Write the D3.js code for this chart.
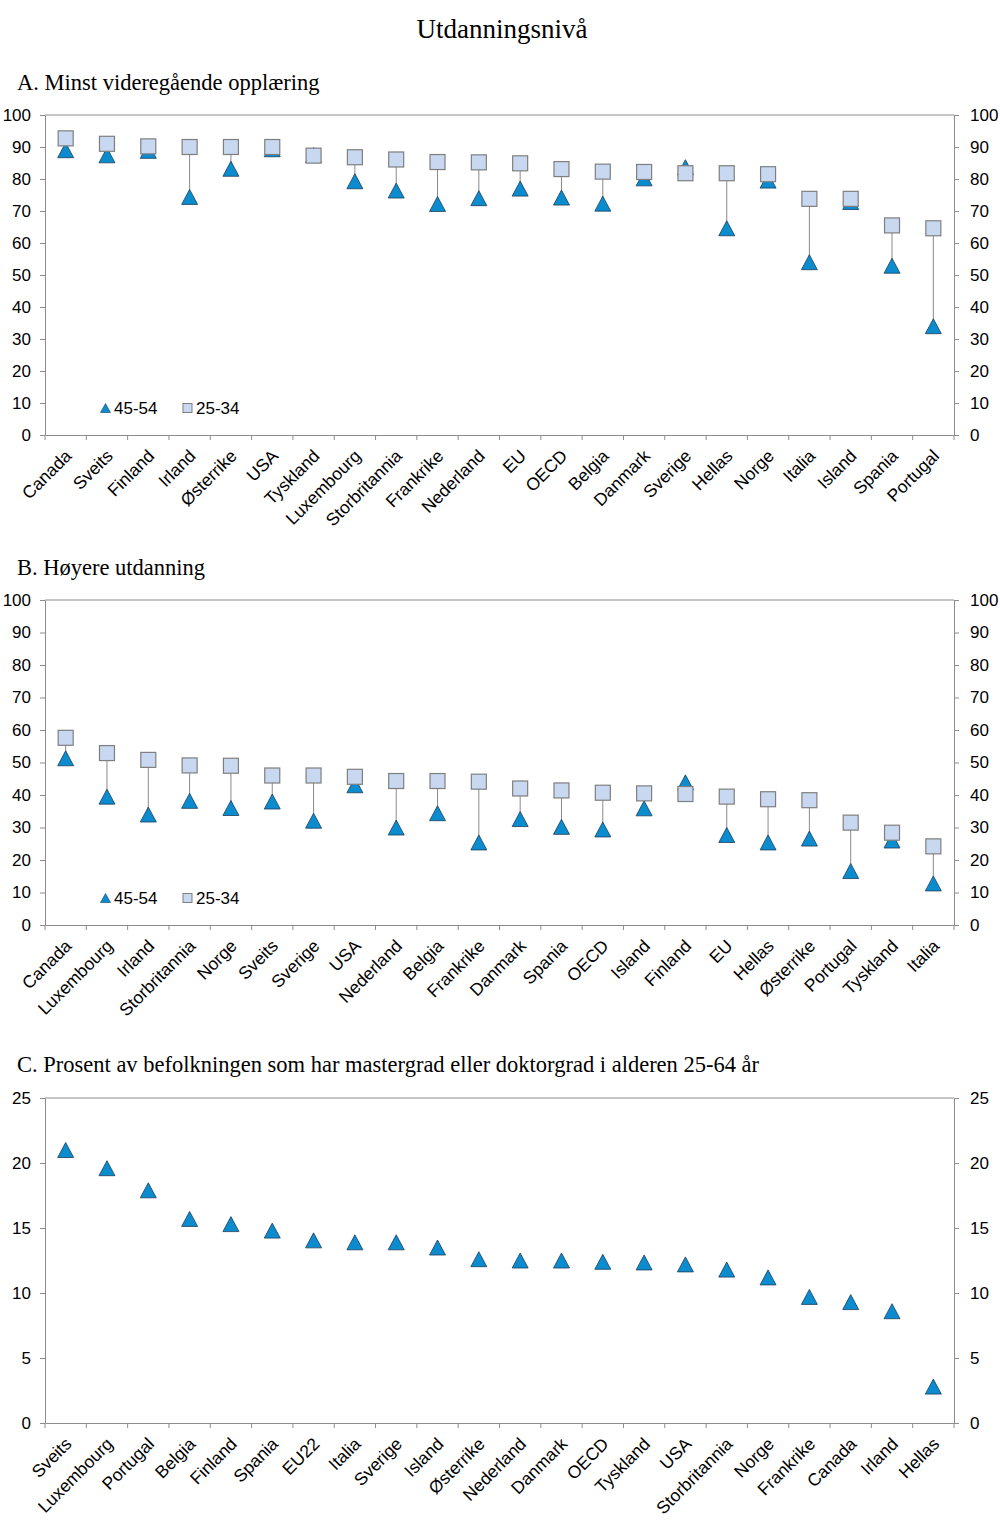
<!DOCTYPE html>
<html>
<head>
<meta charset="utf-8">
<script src="https://cdn.jsdelivr.net/npm/d3@7"></script>
<style>
  body { margin: 0; background: #fff; }
  svg { display: block; }
  .axis text { font-family: "Liberation Sans", Arial, sans-serif; font-size: 17px; fill: #000; }
  .axis path, .axis line { stroke: #8c8c8c; }
</style>
</head>
<body>
<svg id="chart" width="1000" height="1536"></svg>
<script>
// Panel A: minst videregående opplæring
const catsA = ["Canada", "Sveits", "Finland", "Irland", "Østerrike", "USA", "Tyskland", "Luxembourg",
  "Storbritannia", "Frankrike", "Nederland", "EU", "OECD", "Belgia", "Danmark", "Sverige", "Hellas",
  "Norge", "Italia", "Island", "Spania", "Portugal"];
const youngA = [92.7, 91, 90.2, 90, 90, 90, 87.3, 86.8, 86.1, 85.3, 85.2, 84.9, 83.1, 82.3, 82.2, 81.8,
  81.8, 81.5, 73.8, 73.8, 65.5, 64.6];
const olderA = [89, 87.4, 88.8, 74.4, 83.2, 89.3, 87.5, 79.3, 76.4, 72.2, 74, 77, 74.2, 72.3, 80.2, 83.7,
  64.6, 79.5, 54, 72.8, 52.9, 34];

// Panel B: høyere utdanning
const catsB = ["Canada", "Luxembourg", "Irland", "Storbritannia", "Norge", "Sveits", "Sverige", "USA",
  "Nederland", "Belgia", "Frankrike", "Danmark", "Spania", "OECD", "Island", "Finland", "EU", "Hellas",
  "Østerrike", "Portugal", "Tyskland", "Italia"];
const youngB = [57.6, 52.9, 50.8, 49.1, 49, 46, 46, 45.6, 44.3, 44.3, 44.1, 42, 41.4, 40.7, 40.5, 40.3,
  39.5, 38.7, 38.4, 31.5, 28.4, 24.2];
const olderB = [51.3, 39.5, 34, 38.2, 36, 38, 32.1, 43, 30, 34.4, 25.4, 32.6, 30.2, 29.4, 35.9, 43.9,
  27.7, 25.4, 26.6, 16.6, 26, 12.8];

// Panel C: mastergrad eller doktorgrad, 25-64 år
const catsC = ["Sveits", "Luxembourg", "Portugal", "Belgia", "Finland", "Spania", "EU22", "Italia",
  "Sverige", "Island", "Østerrike", "Nederland", "Danmark", "OECD", "Tyskland", "USA", "Storbritannia",
  "Norge", "Frankrike", "Canada", "Irland", "Hellas"];
const valuesC = [21, 19.6, 17.9, 15.7, 15.3, 14.8, 14.05, 13.9, 13.9, 13.5, 12.6, 12.5, 12.5, 12.4,
  12.35, 12.2, 11.8, 11.2, 9.7, 9.3, 8.6, 2.8];

const ticks100 = [0, 10, 20, 30, 40, 50, 60, 70, 80, 90, 100];
const ticks25 = [0, 5, 10, 15, 20, 25];
const seriesNames = ["45-54", "25-34"];

const svg = d3.select("#chart");
const left = 45, right = 954;
const triFill = "#0a8ccf", triStroke = "#1d3d5c";
const sqFill = "#c8d8f0", sqStroke = "#7f7f7f";
const triPath = s => `M0,${-s} L${s + 0.5},${s} L${-s - 0.5},${s} Z`;

svg.append("text")
  .attr("x", 502).attr("y", 38)
  .attr("text-anchor", "middle")
  .style("font-family", "'Liberation Serif', 'Times New Roman', serif")
  .style("font-size", "27px")
  .text("Utdanningsnivå");

function panel(opts) {
  const { title, titleY, top, bottom, cats, max, ticks, older, young, legendY } = opts;
  const g = svg.append("g");

  g.append("text")
    .attr("x", 17).attr("y", titleY)
    .style("font-family", "'Liberation Serif', 'Times New Roman', serif")
    .style("font-size", "22.5px")
    .text(title);

  const x = d3.scaleBand().domain(cats).range([left, right]);
  const y = d3.scaleLinear().domain([0, max]).range([bottom, top]);

  // frame top line
  g.append("line")
    .attr("x1", left).attr("x2", right).attr("y1", top).attr("y2", top)
    .attr("stroke", "#8c8c8c");

  g.append("g").attr("class", "axis")
    .attr("transform", `translate(${left},0)`)
    .call(d3.axisLeft(y).tickValues(ticks).tickSize(5).tickPadding(9).tickSizeOuter(0));
  g.append("g").attr("class", "axis")
    .attr("transform", `translate(${right},0)`)
    .call(d3.axisRight(y).tickValues(ticks).tickSize(5).tickPadding(11).tickSizeOuter(0));

  const xAxis = g.append("g").attr("class", "axis")
    .attr("transform", `translate(0,${bottom})`)
    .call(d3.axisBottom(x).tickSize(0).tickSizeOuter(0));
  xAxis.selectAll(".tick text")
    .style("font-size", "17.5px")
    .attr("text-anchor", "end")
    .attr("transform", "translate(7,22) rotate(-45)")
    .attr("dy", 0).attr("y", 0);
  // ticks between categories
  xAxis.selectAll(".sep")
    .data(d3.range(cats.length + 1))
    .join("line")
      .attr("class", "sep")
      .attr("x1", i => left + i * x.step()).attr("x2", i => left + i * x.step())
      .attr("y1", 0).attr("y2", 5)
      .attr("stroke", "#8c8c8c");

  const cx = d => x(d) + x.bandwidth() / 2;

  if (young) {
    g.append("g").selectAll("line")
      .data(cats)
      .join("line")
        .attr("x1", cx).attr("x2", cx)
        .attr("y1", (d, i) => y(young[i])).attr("y2", (d, i) => y(older[i]))
        .attr("stroke", "#8a8a8a").attr("stroke-width", 1);
  }

  g.append("g").selectAll("path")
    .data(cats)
    .join("path")
      .attr("d", triPath(7.5))
      .attr("transform", (d, i) => `translate(${cx(d)},${y(older[i])})`)
      .attr("fill", triFill).attr("stroke", triStroke).attr("stroke-width", 0.8);

  if (young) {
    g.append("g").selectAll("rect")
      .data(cats)
      .join("rect")
        .attr("x", d => cx(d) - 7.5)
        .attr("y", (d, i) => y(young[i]) - 7.5)
        .attr("width", 15).attr("height", 15)
        .attr("fill", sqFill).attr("stroke", sqStroke).attr("stroke-width", 1.2);

    // legend
    const lg = g.append("g").attr("transform", `translate(0,${legendY})`);
    lg.append("path").attr("d", triPath(4.5))
      .attr("transform", "translate(105.5,0)")
      .attr("fill", triFill).attr("stroke", triStroke).attr("stroke-width", 0.6);
    lg.append("rect").attr("x", 183).attr("y", -4.5).attr("width", 9).attr("height", 9)
      .attr("fill", sqFill).attr("stroke", sqStroke);
    lg.selectAll("text")
      .data(seriesNames)
      .join("text")
        .attr("x", (d, i) => i === 0 ? 114 : 196)
        .attr("y", 6)
        .style("font-family", "'Liberation Sans', Arial, sans-serif")
        .style("font-size", "17px")
        .text(d => d);
  }
}

panel({ title: "A. Minst videregående opplæring", titleY: 90, top: 115, bottom: 435,
  cats: catsA, max: 100, ticks: ticks100, older: olderA, young: youngA, legendY: 408 });
panel({ title: "B. Høyere utdanning", titleY: 575, top: 600, bottom: 925,
  cats: catsB, max: 100, ticks: ticks100, older: olderB, young: youngB, legendY: 898 });
panel({ title: "C. Prosent av befolkningen som har mastergrad eller doktorgrad i alderen 25-64 år",
  titleY: 1072, top: 1098, bottom: 1423, cats: catsC, max: 25, ticks: ticks25, older: valuesC });
</script>
</body>
</html>
